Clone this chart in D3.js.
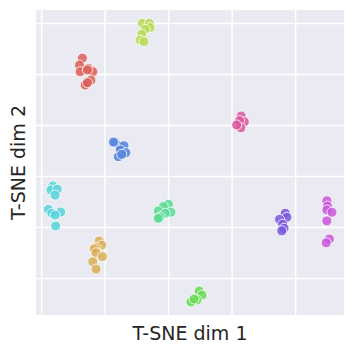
<!DOCTYPE html>
<html><head><meta charset="utf-8">
<script src="https://cdn.jsdelivr.net/npm/d3@7"></script>
<style>body{margin:0;background:#fff}svg{display:block}</style>
</head><body>
<svg id="c" width="354" height="352"></svg>
<script>
const classes = ["0","1","2","3","4","5","6","7","8","9"];
const palette = ["#db5f57","#dbae57","#b9db57","#69db57","#57db94","#57d3db","#5784db","#7957db","#c957db","#db579e"];
const class0 = [[-27.0,36.2],[-27.9,33.5],[-25.1,32.2],[-27.7,30.9],[-23.7,30.9],[-25.4,31.6],[-24.3,27.6],[-26.1,25.7],[-25.4,26.6]];
const class1 = [[-21.7,-35.5],[-20.9,-37.1],[-22.7,-38.0],[-23.3,-38.6],[-22.7,-40.1],[-20.7,-41.6],[-23.7,-43.6],[-22.7,-46.5]];
const class2 = [[-8.1,49.9],[-5.9,49.9],[-5.7,48.2],[-7.2,47.5],[-8.3,45.6],[-8.8,43.3],[-7.6,42.7]];
const class3 = [[9.8,-55.1],[10.7,-56.7],[9.1,-58.6],[7.2,-59.4],[8.2,-58.2]];
const class4 = [[0.1,-21.1],[-1.5,-22.0],[-3.1,-23.7],[0.9,-24.2],[-0.9,-24.6],[-2.5,-26.0],[-3.1,-26.6]];
const class5 = [[-36.3,-13.9],[-36.9,-15.5],[-34.9,-15.2],[-35.6,-17.5],[-37.7,-23.1],[-36.6,-24.6],[-33.8,-24.1],[-35.6,-25.3],[-35.4,-29.6]];
const class6 = [[-16.7,3.1],[-15.3,1.8],[-13.9,1.9],[-15.1,0.2],[-13.3,-0.9],[-15.7,-2.4],[-17.2,3.3],[-14.6,-1.5]];
const class7 = [[36.9,-24.6],[37.4,-26.2],[35.1,-27.0],[36.1,-28.9],[36.5,-30.5],[35.8,-31.5]];
const class8 = [[50.0,-19.7],[50.2,-21.8],[50.0,-23.3],[51.6,-24.2],[50.0,-27.6],[50.8,-34.7],[49.8,-36.2]];
const class9 = [[23.0,13.5],[24.0,11.3],[22.5,11.7],[22.9,8.9],[21.6,10.0]];
const xTicks = [-40,-20,0,20,40];
const yTicks = [-50,-30,-10,10,30,50];
const xLabel = "T-SNE dim 1";
const yLabel = "T-SNE dim 2";

const groups = [class0,class1,class2,class3,class4,class5,class6,class7,class8,class9];
const points = [];
groups.forEach((g,i)=>g.forEach(p=>points.push({x:p[0],y:p[1],c:classes[i]})));

const L=36,T=10,R=344,B=315;
const x = d3.scaleLinear().domain([-41.6,55.4]).range([L,R]);
const y = d3.scaleLinear().domain([-64.5,55.1]).range([B,T]);
const color = d3.scaleOrdinal().domain(classes).range(palette);

const svg = d3.select("#c");
svg.append("rect").attr("x",L).attr("y",T).attr("width",R-L).attr("height",B-T).attr("fill","#eaeaf2");

const gx = svg.append("g").attr("transform",`translate(0,${B})`)
  .call(d3.axisBottom(x).tickValues(xTicks).tickSize(-(B-T)).tickFormat(""));
const gy = svg.append("g").attr("transform",`translate(${L},0)`)
  .call(d3.axisLeft(y).tickValues(yTicks).tickSize(-(R-L)).tickFormat(""));
[gx,gy].forEach(g=>{
  g.select(".domain").remove();
  g.selectAll(".tick line").attr("stroke","#fff").attr("stroke-width",1.5);
});

svg.append("g").selectAll("circle").data(points).join("circle")
  .attr("cx",d=>x(d.x)).attr("cy",d=>y(d.y)).attr("r",5)
  .attr("fill",d=>color(d.c)).attr("fill-opacity",0.85)
  .attr("stroke","#fff").attr("stroke-width",0.8);

svg.append("text").attr("x",(L+R)/2).attr("y",339.5).attr("text-anchor","middle")
  .attr("font-family","DejaVu Sans").attr("font-size",19).attr("fill","#262626").text(xLabel);
svg.append("text").attr("transform",`translate(25,${(T+B)/2}) rotate(-90)`).attr("text-anchor","middle")
  .attr("font-family","DejaVu Sans").attr("font-size",19).attr("fill","#262626").text(yLabel);
</script>
</body></html>
